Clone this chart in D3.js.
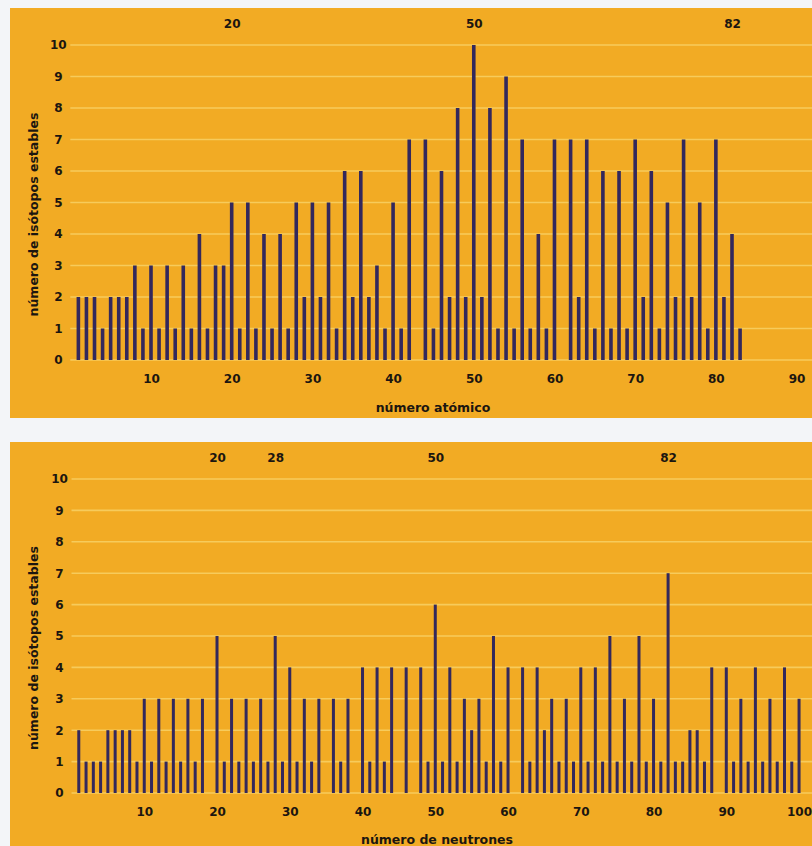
<!DOCTYPE html>
<html>
<head>
<meta charset="utf-8">
<script src="https://cdn.jsdelivr.net/npm/d3@7"></script>
<style>
  html, body { margin: 0; padding: 0; background: #f3f5f8; }
  svg { display: block; }
  text { font-family: "DejaVu Sans", sans-serif; font-weight: bold; fill: #1c1610; }
</style>
</head>
<body>
<svg id="chart" width="812" height="846"></svg>
<script>
// ---- DATA ----
// number of stable isotopes per atomic number Z = 1..83
const atomicNumbers = d3.range(1, 84);
const isotopesByZ = [
  2,2,2,1,2,2,2,3,1,3,   // 1-10
  1,3,1,3,1,4,1,3,3,5,   // 11-20
  1,5,1,4,1,4,1,5,2,5,   // 21-30
  2,5,1,6,2,6,2,3,1,5,   // 31-40
  1,7,0,7,1,6,2,8,2,10,  // 41-50
  2,8,1,9,1,7,1,4,1,7,   // 51-60
  0,7,2,7,1,6,1,6,1,7,   // 61-70
  2,6,1,5,2,7,2,5,1,7,   // 71-80
  2,4,1                  // 81-83
];
// number of stable isotopes per neutron number N = 1..100
const neutronNumbers = d3.range(1, 101);
const isotopesByN = [
  2,1,1,1,2,2,2,2,1,3,   // 1-10
  1,3,1,3,1,3,1,3,0,5,   // 11-20
  1,3,1,3,1,3,1,5,1,4,   // 21-30
  1,3,1,3,0,3,1,3,0,4,   // 31-40
  1,4,1,4,0,4,0,4,1,6,   // 41-50
  1,4,1,3,2,3,1,5,1,4,   // 51-60
  0,4,1,4,2,3,1,3,1,4,   // 61-70
  1,4,1,5,1,3,1,5,1,3,   // 71-80
  1,7,1,1,2,2,1,4,0,4,   // 81-90
  1,3,1,4,1,3,1,4,1,3    // 91-100
];
const yTicks = d3.range(0, 11);
const topXTicks = [10,20,30,40,50,60,70,80,90];
const bottomXTicks = [10,20,30,40,50,60,70,80,90,100];
const topMagic = [20,50,82];
const bottomMagic = [20,28,50,82];
const yTitle = "número de isótopos estables";
const topXTitle = "número atómico";
const bottomXTitle = "número de neutrones";

// ---- STYLE ----
const BG = "#f2ab24";
const GRID = "#f8cf62";
const BAR = "#33285c";

const svg = d3.select("#chart");

function panel(cfg) {
  const g = svg.append("g");
  // panel background
  g.append("rect")
    .attr("x", 10).attr("y", cfg.top)
    .attr("width", 802).attr("height", cfg.bottom - cfg.top)
    .attr("fill", BG);

  const x = d3.scaleLinear().domain(cfg.xDomain).range(cfg.xRange);
  const y = d3.scaleLinear().domain([0, 10]).range([cfg.y0, cfg.y10]);

  // gridlines
  g.append("g").selectAll("line").data(yTicks).join("line")
    .attr("x1", x(0)).attr("x2", 812)
    .attr("y1", d => y(d)).attr("y2", d => y(d))
    .attr("stroke", GRID).attr("stroke-width", 1.6).attr("opacity", 0.9);

  // y tick labels via axis
  const yAxis = g.append("g")
    .attr("transform", `translate(${x(0) - 4},0)`)
    .call(d3.axisLeft(y).tickValues(yTicks).tickSize(0).tickPadding(4));
  yAxis.select(".domain").remove();
  yAxis.selectAll("text")
    .attr("text-anchor", "middle").attr("x", -8)
    .style("font-size", "12px");

  // x tick labels via axis
  const xAxis = g.append("g")
    .attr("transform", `translate(0,${cfg.y0 + 12})`)
    .call(d3.axisBottom(x).tickValues(cfg.xTicks).tickSize(0).tickPadding(2));
  xAxis.select(".domain").remove();
  xAxis.selectAll("text").style("font-size", "12px");

  // magic numbers on top
  const mAxis = g.append("g")
    .attr("transform", `translate(0,${cfg.y10 - 17})`)
    .call(d3.axisTop(x).tickValues(cfg.magic).tickSize(0).tickPadding(0));
  mAxis.select(".domain").remove();
  mAxis.selectAll("text").style("font-size", "12px");

  // bars
  g.append("g").selectAll("rect").data(cfg.cats.map((c, i) => ({c, v: cfg.vals[i]})).filter(d => d.v > 0))
    .join("rect")
    .attr("x", d => x(d.c) - cfg.barW / 2)
    .attr("width", cfg.barW)
    .attr("y", d => y(d.v))
    .attr("height", d => y(0) - y(d.v))
    .attr("fill", BAR);

  // y title
  g.append("text")
    .attr("transform", `translate(38,${(cfg.y0 + cfg.y10) / 2 + 12}) rotate(-90)`)
    .attr("text-anchor", "middle")
    .style("font-size", "12.5px")
    .text(yTitle);

  // x title
  g.append("text")
    .attr("x", cfg.titleX).attr("y", cfg.titleY)
    .attr("text-anchor", "middle")
    .style("font-size", "12.5px")
    .text(cfg.xTitle);
}

panel({
  top: 8, bottom: 418,
  xDomain: [0, 92], xRange: [70.3, 812.7],
  y0: 360, y10: 45,
  xTicks: topXTicks, magic: topMagic,
  cats: atomicNumbers, vals: isotopesByZ, barW: 3.6,
  xTitle: topXTitle, titleX: 433, titleY: 412
});

panel({
  top: 442, bottom: 846,
  xDomain: [0, 102], xRange: [71.5, 813.6],
  y0: 793, y10: 479,
  xTicks: bottomXTicks, magic: bottomMagic,
  cats: neutronNumbers, vals: isotopesByN, barW: 3.0,
  xTitle: bottomXTitle, titleX: 437, titleY: 844
});
</script>
</body>
</html>
